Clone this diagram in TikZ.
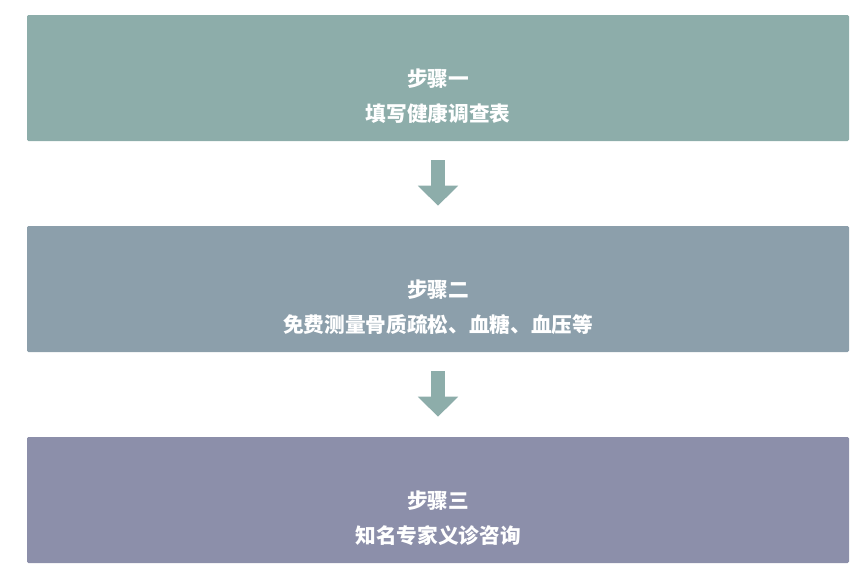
\documentclass[tikz,border=0pt]{standalone}
\usepackage{fontspec}
\newfontfamily\cjk{Noto Sans CJK SC}
\usetikzlibrary{positioning,arrows.meta,calc}
\definecolor{sage}{HTML}{8DADAA}
\definecolor{slate}{HTML}{8C9FAB}
\definecolor{lavender}{HTML}{8C8FAA}

\begin{document}
\begin{tikzpicture}[x=0.75pt,y=-0.75pt,
    stepbox/.style={rounded corners=1pt,inner sep=0pt,minimum width=616.5pt,minimum height=94.5pt},
    steptext/.style={text=white,align=center,font=\cjk\bfseries\fontsize{15.5}{26.25}\selectfont,inner sep=0pt},
    downarrow/.style={draw=sage,line width=11pt,-{Triangle[width=29.25pt,length=15pt]}}]
    \useasboundingbox (0,0) rectangle (861,583);
    % three steps
    \node[stepbox,fill=sage] (s1) at (438,78) {};
    \node[stepbox,fill=slate] (s2) at (438,289) {};
    \node[stepbox,fill=lavender] (s3) at (438,500) {};
    \node[steptext] (t1) at (438,96.5) {步骤一\\填写健康调查表};
    \node[steptext] (t2) at (438,307) {步骤二\\免费测量骨质疏松、血糖、血压等};
    \node[steptext] (t3) at (438,518) {步骤三\\知名专家义诊咨询};
    % arrows between the steps
    \draw[downarrow] ($(s1.south)+(0,19)$) -- ($(s2.north)+(0,-20)$);
    \draw[downarrow] ($(s2.south)+(0,19)$) -- ($(s3.north)+(0,-20)$);
\end{tikzpicture}
\end{document}
